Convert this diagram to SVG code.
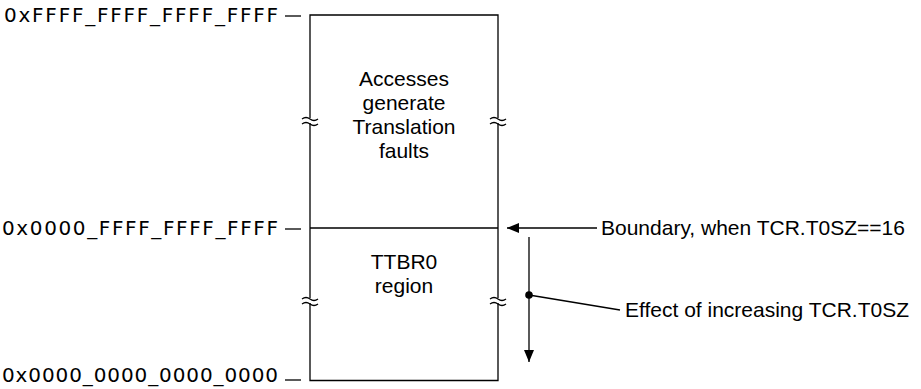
<svg xmlns="http://www.w3.org/2000/svg" width="921" height="389" viewBox="0 0 921 389">
<defs>
<style>
.ln{stroke:#000;stroke-width:1.3;fill:none}
.addr{font-family:"DejaVu Sans",sans-serif;font-size:20px;fill:#000}
.lbl{font-family:"Liberation Sans",Arial,sans-serif;font-size:21px;fill:#000}
.mid{text-anchor:middle}
</style>
<marker id="ah" viewBox="0 0 12 10" refX="12" refY="5" markerWidth="12" markerHeight="10" markerUnits="userSpaceOnUse" orient="auto">
<path d="M0,0 L12,5 L0,10 Z" fill="#000"/>
</marker>
</defs>
<rect width="921" height="389" fill="#fff"/>
<g id="memory-map">
<path class="ln" d="M310,118 V15 H498 V118 M310,123 V298 M498,123 V298 M310,303 V380.5 H498 V303 M310,228 H498"/>
<path class="ln" d="M302,119 q4,-3 8,0 t8,0 M302,124 q4,-3 8,0 t8,0 M490,119 q4,-3 8,0 t8,0 M490,124 q4,-3 8,0 t8,0"/>
<path class="ln" d="M302,299 q4,-3 8,0 t8,0 M302,304 q4,-3 8,0 t8,0 M490,299 q4,-3 8,0 t8,0 M490,304 q4,-3 8,0 t8,0"/>
</g>
<g id="upper-region">
<text class="lbl mid" x="404" y="86">Accesses</text>
<text class="lbl mid" x="404" y="110">generate</text>
<text class="lbl mid" x="404" y="134">Translation</text>
<text class="lbl mid" x="404" y="158">faults</text>
</g>
<g id="ttbr0-region">
<text class="lbl mid" x="404" y="269">TTBR0</text>
<text class="lbl mid" x="404" y="293">region</text>
</g>
<g id="addr-top">
<text class="addr" x="4" y="22" textLength="274" lengthAdjust="spacing">0xFFFF_FFFF_FFFF_FFFF</text>
<path class="ln" d="M285,16 H301"/>
</g>
<g id="addr-mid">
<text class="addr" x="2" y="235" textLength="276" lengthAdjust="spacing">0x0000_FFFF_FFFF_FFFF</text>
<path class="ln" d="M285,229 H301"/>
</g>
<g id="addr-bottom">
<text class="addr" x="2" y="382" textLength="276" lengthAdjust="spacing">0x0000_0000_0000_0000</text>
<path class="ln" d="M285,380 H301"/>
</g>
<g id="boundary-label">
<text class="lbl" x="601" y="235">Boundary, when TCR.T0SZ==16</text>
</g>
<g id="effect-label">
<text class="lbl" x="625" y="317">Effect of increasing TCR.T0SZ</text>
</g>
<g id="connectors">
<path class="ln" d="M597,228 H507" marker-end="url(#ah)"/>
<path class="ln" d="M529,237 V362" marker-end="url(#ah)"/>
<circle cx="529" cy="295" r="3.8" fill="#000"/>
<path class="ln" d="M529,295 L620,310"/>
</g>
</svg>
